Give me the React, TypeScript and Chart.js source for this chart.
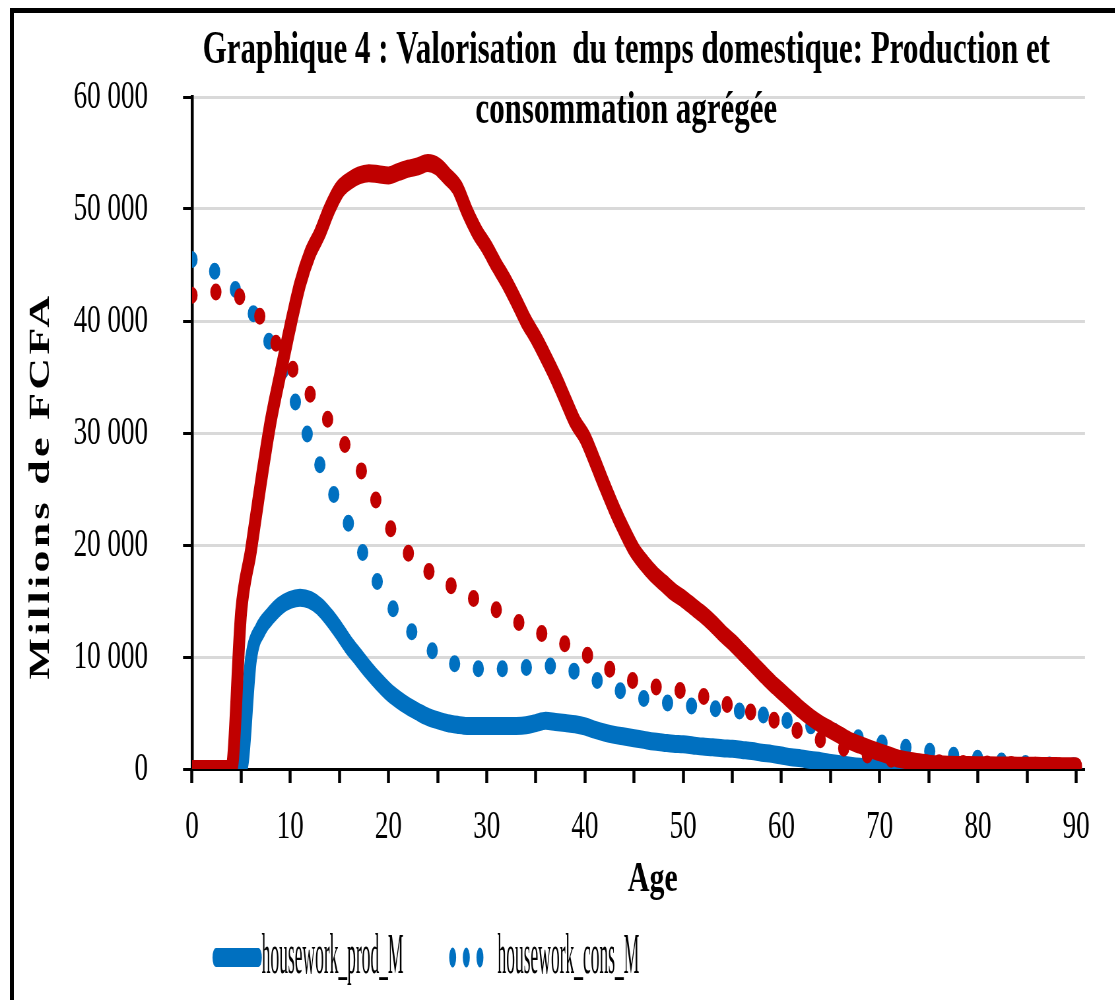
import React, { useEffect, useRef } from "react";
import { Chart, registerables } from "chart.js";

Chart.register(...registerables);

// ---------- data ----------
const ages: number[] = Array.from({ length: 91 }, (_, i) => i);

const seriesNames = ["housework_prod_M", "housework_cons_M", "housework_prod_F", "housework_cons_F"];

const prodM: number[] = [
  0, 0, 0, 0, 0, 0, 9800, 12500, 13700, 14600, 15100, 15300, 15100, 14500, 13500, 12300,
  11000, 9900, 8800, 7800, 6900, 6200, 5600, 5100, 4650, 4350, 4100, 3950, 3850, 3850,
  3850, 3850, 3850, 3850, 3900, 4100, 4300, 4200, 4100, 4000, 3800, 3500, 3250, 3050, 2900,
  2750, 2600, 2450, 2350, 2250, 2200, 2100, 2000, 1950, 1850, 1800, 1700, 1600, 1450, 1350,
  1200, 1050, 950, 800, 700, 550, 420, 300, 200, 130, 80, 50, 30, 20, 20,
  20, 20, 20, 20, 20, 20, 20, 20, 20, 20, 20, 20, 20, 20, 20, 20,
];

const consM: number[] = [
  45500, 45100, 44600, 44000, 43200, 42200, 41000, 39500, 37900, 36100, 34000, 31600, 29300, 27200, 25300,
  23500, 21800, 20000, 18200, 16500, 14900, 13700, 12600, 11700, 10900, 10200, 9700, 9300, 9050, 8950,
  8950, 8950, 8950, 9000, 9050, 9150, 9200, 9150, 9050, 8700, 8400, 8000, 7600, 7200, 6850,
  6550, 6300, 6100, 5950, 5800, 5700, 5600, 5500, 5400, 5350, 5250, 5150, 5000, 4850, 4650,
  4450, 4250, 4050, 3850, 3650, 3450, 3200, 2950, 2750, 2550, 2350, 2200, 2050, 1900, 1750,
  1600, 1450, 1300, 1150, 1050, 950, 850, 750, 650, 560, 480, 420, 370, 330, 300, 280,
];

const prodF: number[] = [
  0, 0, 0, 0, 0, 14000, 19500, 25500, 31000, 35300, 39500, 43300, 46000, 47800, 50000,
  51700, 52500, 53000, 53200, 53100, 53000, 53300, 53600, 53800, 54100, 53800, 52900, 51900, 49800, 48000,
  46600, 45000, 43500, 41800, 40000, 38500, 36800, 35000, 33000, 31000, 29600, 27500, 25300, 23200, 21300,
  19600, 18400, 17400, 16600, 15800, 15200, 14500, 13800, 13000, 12100, 11300, 10400, 9500, 8600, 7700,
  6900, 6100, 5300, 4600, 4000, 3500, 3000, 2500, 2150, 1800, 1500, 1200, 900, 750, 600,
  480, 420, 380, 360, 350, 340, 330, 320, 310, 300, 290, 280, 270, 260, 250, 250,
];

const consF: number[] = [
  42300, 42450, 42600, 42550, 42350, 42100, 41300, 40300, 38900, 37300, 36000, 34900, 33500, 32200, 31000,
  29700, 28400, 27000, 25300, 23500, 21800, 20400, 19300, 18300, 17700, 17200, 16600, 16000, 15500, 15100,
  14750, 14200, 13700, 13200, 12800, 12350, 11950, 11550, 11150, 10750, 10300, 9700, 9150, 8700, 8250,
  7850, 7550, 7350, 7250, 7150, 6950, 6800, 6500, 6200, 5900, 5600, 5350, 5050, 4750, 4450,
  4050, 3650, 3300, 2950, 2600, 2250, 1950, 1650, 1400, 1200, 1050, 900, 800, 700, 650,
  600, 560, 530, 500, 480, 460, 440, 420, 400, 380, 360, 340, 320, 300, 280, 260,
];

const xTickValues: number[] = [0, 10, 20, 30, 40, 50, 60, 70, 80, 90];
const titleLines: string[] = ["Graphique 4 : Valorisation  du temps domestique: Production et", "consommation agrégée"];
const yTitle = "Millions de FCFA";
const xTitle = "Age";

// ---------- style ----------
const BLUE = "#0070C0";
const RED = "#C00000";
const SERIF = '"Liberation Serif", "Times New Roman", serif';
const SQUEEZE = 0.66;
const CW = 1690;
const CH = 1000;

const fmt = (v: number) => String(v).replace(/\B(?=(\d{3})+(?!\d))/g, " ");

function drawScaledText(ctx: CanvasRenderingContext2D, text: string, x: number, y: number, k: number) {
  ctx.save();
  ctx.translate(x, y);
  ctx.scale(k, 1);
  ctx.fillText(text, 0, 0);
  ctx.restore();
}

const textPlugin = {
  id: "customText",
  afterDraw(chart: any) {
    const ctx: CanvasRenderingContext2D = chart.ctx;
    ctx.save();
    ctx.fillStyle = "#000";
    ctx.textBaseline = "alphabetic";

    // title
    ctx.font = `bold 46px ${SERIF}`;
    ctx.textAlign = "center";
    drawScaledText(ctx, titleLines[0], 949, 63, 1.02);
    drawScaledText(ctx, titleLines[1], 949, 123, 1.02);

    // x-axis title
    ctx.font = `bold 42px ${SERIF}`;
    drawScaledText(ctx, xTitle, 989, 891, 1.08);

    // y-axis title
    ctx.save();
    ctx.translate(73.5, 486);
    ctx.rotate(-Math.PI / 2);
    ctx.font = `bold 44px ${SERIF}`;
    (ctx as any).letterSpacing = "3.3px";
    ctx.textAlign = "center";
    ctx.fillText(yTitle, 0, 0);
    ctx.restore();

    // legend (2 x 2; second row falls below the picture)
    const k = 0.53;
    const ds = chart.data.datasets;
    const cols = [617, 1294];
    const rows = [957.5, 1080];
    seriesNames.forEach((name, idx) => {
      const d = ds.find((q: any) => q.label === name);
      const cx = cols[idx % 2];
      const cy = rows[Math.floor(idx / 2)];
      const dotted = d.borderDash && d.borderDash.length;
      ctx.save();
      ctx.scale(k, 1);
      ctx.strokeStyle = d.borderColor;
      ctx.lineCap = "round";
      ctx.beginPath();
      if (dotted) {
        ctx.lineWidth = 20;
        ctx.setLineDash([0, 39]);
        ctx.moveTo(cx, cy);
        ctx.lineTo(cx + 78.5, cy);
      } else {
        ctx.lineWidth = 19;
        ctx.setLineDash([]);
        ctx.moveTo(cx, cy);
        ctx.lineTo(cx + 122, cy);
      }
      ctx.stroke();
      ctx.restore();
      ctx.setLineDash([]);
      ctx.fillStyle = "#000";
      ctx.font = `57px ${SERIF}`;
      ctx.textAlign = "left";
      const tx = (dotted ? cx + 128 : cx + 131) * k;
      drawScaledText(ctx, d.label, tx, cy + 15, 0.465);
    });

    ctx.restore();
  },
};

export default function App() {
  const canvasRef = useRef<HTMLCanvasElement | null>(null);

  useEffect(() => {
    const canvas = canvasRef.current;
    if (!canvas) return;
    const pts = (arr: number[]) => ages.map((a, i) => ({ x: a, y: arr[i] }));
    const common = {
      pointRadius: 0,
      cubicInterpolationMode: "monotone",
      borderJoinStyle: "round",
      borderCapStyle: "round",
    };
    const chart = new Chart(canvas, {
      type: "line",
      data: {
        datasets: [
          { ...common, label: seriesNames[0], data: pts(prodM), borderColor: BLUE, backgroundColor: BLUE, borderWidth: 18, order: 4 },
          { ...common, label: seriesNames[1], data: pts(consM), borderColor: BLUE, backgroundColor: BLUE, borderWidth: 17, borderDash: [0, 36.4], order: 3 },
          { ...common, label: seriesNames[2], data: pts(prodF), borderColor: RED, backgroundColor: RED, borderWidth: 18, order: 2 },
          { ...common, label: seriesNames[3], data: pts(consF), borderColor: RED, backgroundColor: RED, borderWidth: 17, borderDash: [0, 36.4], order: 1 },
        ],
      },
      options: {
        responsive: false,
        animation: false,
        devicePixelRatio: 1,
        layout: { padding: { left: 0, right: 46.1, top: 97, bottom: 131 } },
        plugins: {
          legend: { display: false },
          title: { display: false },
          tooltip: { enabled: false },
        },
        scales: {
          x: {
            type: "linear",
            min: 0,
            max: 90.9,
            afterFit: (s: any) => {
              s.height = 100;
            },
            grid: {
              drawOnChartArea: false,
              drawTicks: true,
              tickLength: 14,
              tickColor: "#000",
              tickWidth: 4.5,
            },
            border: { color: "#000", width: 3 },
            ticks: {
              stepSize: 5,
              includeBounds: false,
              autoSkip: false,
              maxRotation: 0,
              padding: 20,
              color: "#000",
              font: { family: SERIF, size: 41 },
              callback: (v: any) => (xTickValues.includes(Number(v)) ? String(v) : ""),
            },
          },
          y: {
            min: 0,
            max: 60000,
            afterFit: (s: any) => {
              s.width = 290.9;
            },
            grid: {
              color: "#D9D9D9",
              lineWidth: 3,
              drawTicks: true,
              tickLength: 13.6,
              tickColor: "#000",
              tickWidth: 3,
            },
            border: { color: "#000", width: 4.5 },
            ticks: {
              stepSize: 10000,
              padding: 53,
              color: "#000",
              font: { family: SERIF, size: 41 },
              callback: (v: any) => fmt(Number(v)),
            },
          },
        },
      },
      plugins: [textPlugin],
    } as any);
    return () => chart.destroy();
  }, []);

  return (
    <div style={{ position: "fixed", inset: 0, overflow: "hidden", background: "#fff" }}>
      <div
        style={{
          position: "absolute",
          left: 0,
          top: 0,
          width: CW,
          height: CH,
          transform: `scaleX(${SQUEEZE})`,
          transformOrigin: "0 0",
        }}
      >
        <canvas ref={canvasRef} width={CW} height={CH} style={{ display: "block" }} />
      </div>
      <div
        style={{
          position: "absolute",
          left: 10,
          top: 8,
          width: 1300,
          height: 1200,
          borderTop: "5px solid #000",
          borderLeft: "4px solid #000",
          boxSizing: "border-box",
          pointerEvents: "none",
        }}
      />
    </div>
  );
}
